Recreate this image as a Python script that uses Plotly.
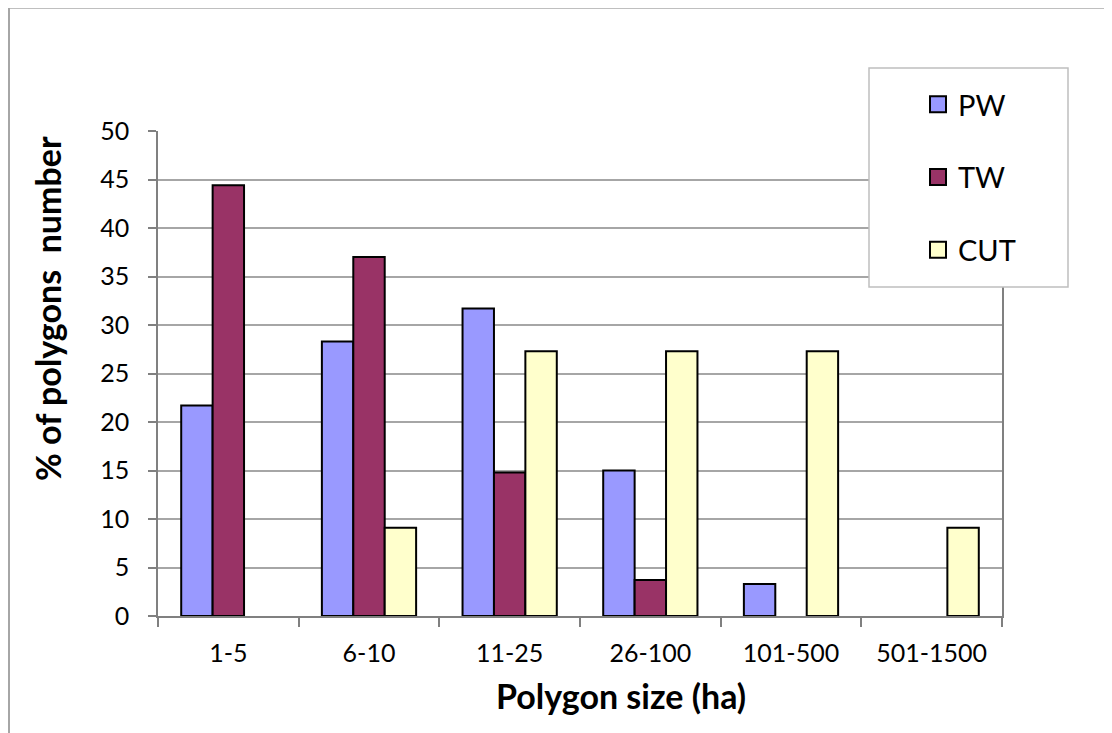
import plotly.graph_objects as go

categories = ["1-5", "6-10", "11-25", "26-100", "101-500", "501-1500"]
pw = [21.7, 28.3, 31.7, 15.0, 3.3, 0]
tw = [44.4, 37.0, 14.8, 3.7, 0, 0]
cut = [0, 9.1, 27.3, 27.3, 27.3, 9.1]
series_names = ["PW", "TW", "CUT"]
series_colors = ["#9999FF", "#993366", "#FFFFCC"]
y_ticks = [0, 5, 10, 15, 20, 25, 30, 35, 40, 45, 50]
x_title = "<b>Polygon size (ha)</b>"
y_title = "<b>% of polygons  number</b>"

# page is shown with an 8px body margin: work in page coordinates, subtract offset
OFF = 8
W, H = 1112 - OFF, 733 - OFF
L, R, T, B = 158 - OFF, 1002 - OFF, 131 - OFF, 616 - OFF

def px(x):
    return (x - OFF - L) / (R - L)

def py(y):
    return (B - (y - OFF)) / (B - T)

FONT = "Lato, 'DejaVu Sans', sans-serif"

fig = go.Figure()
for name, vals, col in zip(series_names, [pw, tw, cut], series_colors):
    fig.add_trace(go.Bar(
        x=categories, y=vals, name=name, legendgroup=name, showlegend=False,
        marker=dict(color=col, line=dict(color="#000000", width=[2 if v else 0 for v in vals])),
    ))
for name, col in zip(series_names, series_colors):
    fig.add_trace(go.Scatter(
        x=[None], y=[None], mode="markers", name=name, legendgroup=name,
        marker=dict(symbol="square", size=16, color=col, line=dict(color="#000000", width=2)),
    ))

fig.update_layout(
    width=W, height=H,
    margin=dict(l=L, r=W - R, t=T, b=H - B, autoexpand=False),
    paper_bgcolor="white", plot_bgcolor="white",
    barmode="group", bargap=0.33, bargroupgap=0,
    font=dict(family=FONT, size=25, color="#000000"),
    showlegend=True,
    legend=dict(
        x=px(918), y=py(79), xanchor="left", yanchor="top",
        bgcolor="rgba(0,0,0,0)", borderwidth=0,
        font=dict(family=FONT, size=29, color="#000000"),
        tracegroupgap=32, itemsizing="trace",
    ),
    xaxis=dict(
        type="category", showgrid=False,
        showline=True, linecolor="#808080", linewidth=1.5,
        ticks="outside", ticklen=9, tickcolor="#808080", tickwidth=1.5,
        tickson="boundaries", ticklabelstandoff=14,
        tickfont=dict(family=FONT, size=25, color="#000000"),
    ),
    yaxis=dict(
        range=[0, 50], tickvals=y_ticks, showgrid=True, gridcolor="#A6A6A6", gridwidth=1.5,
        showline=True, linecolor="#808080", linewidth=1.5, mirror=True,
        ticks="outside", ticklen=8, tickcolor="#808080", tickwidth=1.5,
        zeroline=False, ticklabelstandoff=14,
        tickfont=dict(family=FONT, size=25, color="#000000"),
    ),
    annotations=[
        dict(text=x_title, xref="paper", yref="paper", x=px(621), y=py(695),
             xanchor="center", yanchor="middle", showarrow=False,
             font=dict(family=FONT, size=34, color="#000000")),
        dict(text=y_title, xref="paper", yref="paper", x=px(47), y=py(309),
             xanchor="center", yanchor="middle", showarrow=False, textangle=-90,
             font=dict(family=FONT, size=34, color="#000000")),
    ],
    shapes=[
        dict(type="line", xref="paper", yref="paper", x0=px(8), x1=px(1130), y0=py(8), y1=py(8),
             line=dict(color="#BFBFBF", width=2), layer="above"),
        dict(type="line", xref="paper", yref="paper", x0=px(9), x1=px(9), y0=py(8), y1=py(760),
             line=dict(color="#A6A6A6", width=2), layer="above"),
        dict(type="rect", xref="paper", yref="paper", x0=px(869), x1=px(1068), y0=py(68), y1=py(287),
             fillcolor="white", line=dict(color="#BFBFBF", width=1.5), layer="above"),
    ],
)

fig.write_html("out.html")
